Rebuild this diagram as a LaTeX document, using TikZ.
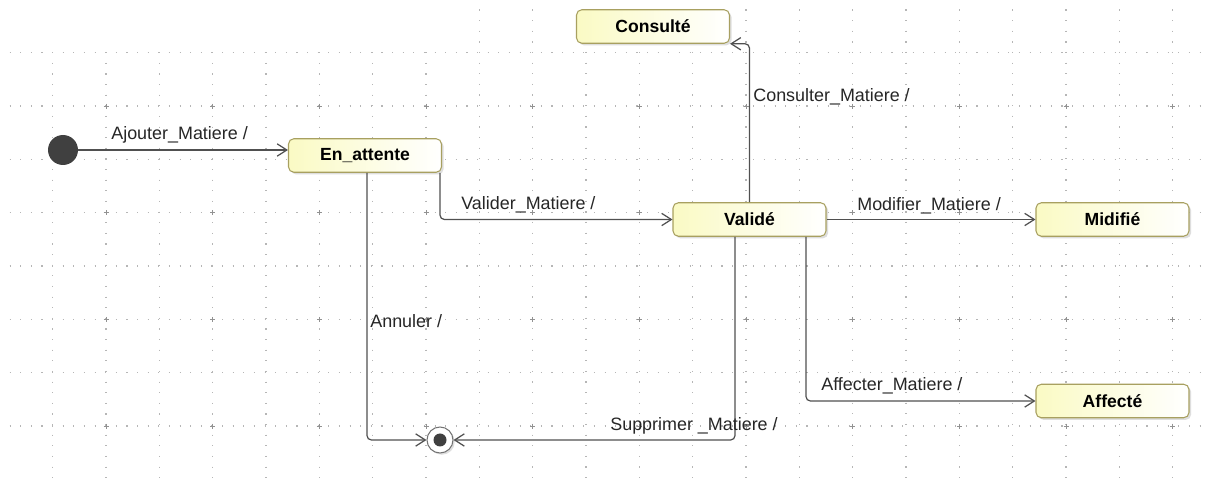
\documentclass[tikz,border=0pt]{standalone}
\usepackage{fontspec}
\setmainfont{Liberation Sans}
\usetikzlibrary{arrows.meta,calc,shadows}

\definecolor{bordure}{RGB}{168,160,96}
\definecolor{jaune}{RGB}{250,250,196}
\definecolor{trait}{RGB}{80,80,80}
\definecolor{grille}{RGB}{182,182,182}
\definecolor{sombre}{RGB}{64,64,64}

\tikzset{
  pointille/.style={draw=grille, line width=0.65pt,
    dash pattern=on 0.65pt off 5.3975pt},
  etat/.style={draw=bordure, line width=0.6pt, rounded corners=3pt,
    left color=jaune, right color=white,
    drop shadow={shadow xshift=1.2pt, shadow yshift=-1.2pt, fill=black!25},
    minimum width=3.06cm, minimum height=0.67cm, inner sep=0pt,
    font=\fontsize{10}{12}\selectfont\bfseries},
  debut/.style={circle, fill=sombre, minimum size=0.6cm, inner sep=0pt},
  fin/.style={circle, draw=black!55, fill=white, line width=0.6pt,
    minimum size=0.52cm, inner sep=0pt,
    drop shadow={shadow xshift=1pt, shadow yshift=-1pt, fill=black!25}},
  trans/.style={draw=trait, line width=0.7pt, rounded corners=2.5pt,
    -{Straight Barb[length=5.5pt,width=7pt]}},
  etiq/.style={anchor=base west, inner sep=0pt, text=black!85},
}

\begin{document}
\begin{tikzpicture}[x=0.02cm, y=-0.02cm, font=\fontsize{10.2}{12}\selectfont]
  \useasboundingbox (0,0) rectangle (1208,479);
  \fill[white] (0,0) rectangle (1208,479);

  % Grille de points : lignes
  \foreach \lig in {1,...,8}
    \draw[pointille] (9.5,{53.333*\lig-0.6}) -- (1208,{53.333*\lig-0.6});
  % colonnes (à gauche elles commencent à la première ligne)
  \foreach \col in {1,...,8}
    \draw[pointille] ({53.333*\col-0.6},52.2) -- ({53.333*\col-0.6},479);
  \foreach \col in {9,...,22}
    \draw[pointille] ({53.333*\col-0.6},9.5) -- ({53.333*\col-0.6},479);
  % croix
  \foreach \cx in {1,...,11}
    \foreach \cy in {1,...,4}
      \draw[grille!80!black, line width=0.5pt] ({106.667*\cx-0.6},{106.667*\cy-0.6})
        +(-2.5,0) -- +(2.5,0) +(0,-2.5) -- +(0,2.5);

  % Etats
  \node[debut] (init) at (63,150) {};
  \node[etat] (attente) at (365,155.5) {En\_attente};
  \node[etat] (consulte) at (653,26.5) {Consulté};
  \node[etat] (valide) at (749.5,219.5) {Validé};
  \node[etat] (midifie) at (1112.5,219.5) {Midifié};
  \node[etat] (affecte) at (1112.5,401) {Affecté};
  \node[fin] (fin) at (440,440) {};
  \fill[sombre] (fin.center) circle (6.5);

  % Transitions
  \draw[trans] (init) -- (init -| attente.west);
  \draw[trans] ($(attente.south east)+(-2,0)$) |- (valide);
  \draw[trans] (valide) |- (consulte.south east);
  \draw[trans] (valide) -- (midifie);
  \draw[trans] ($(valide.south)+(56.5,0)$) |- (affecte);
  \draw[trans] ($(valide.south)+(-14.5,0)$) |- (fin);
  \draw[trans] ($(attente.south)+(2,0)$) |- (fin);

  % Libellés des transitions
  \node[etiq] (l-ajouter) at (111,140) {Ajouter\_Matiere /};
  \node[etiq] (l-valider) at (461,209.5) {Valider\_Matiere /};
  \node[etiq] (l-consulter) at (753,102) {Consulter\_Matiere /};
  \node[etiq] (l-modifier) at (857,211) {Modifier\_Matiere /};
  \node[etiq] (l-affecter) at (821,391) {Affecter\_Matiere /};
  \node[etiq] (l-supprimer) at (610,431) {Supprimer \_Matiere /};
  \node[etiq] (l-annuler) at (370,328) {Annuler /};
\end{tikzpicture}
\end{document}
